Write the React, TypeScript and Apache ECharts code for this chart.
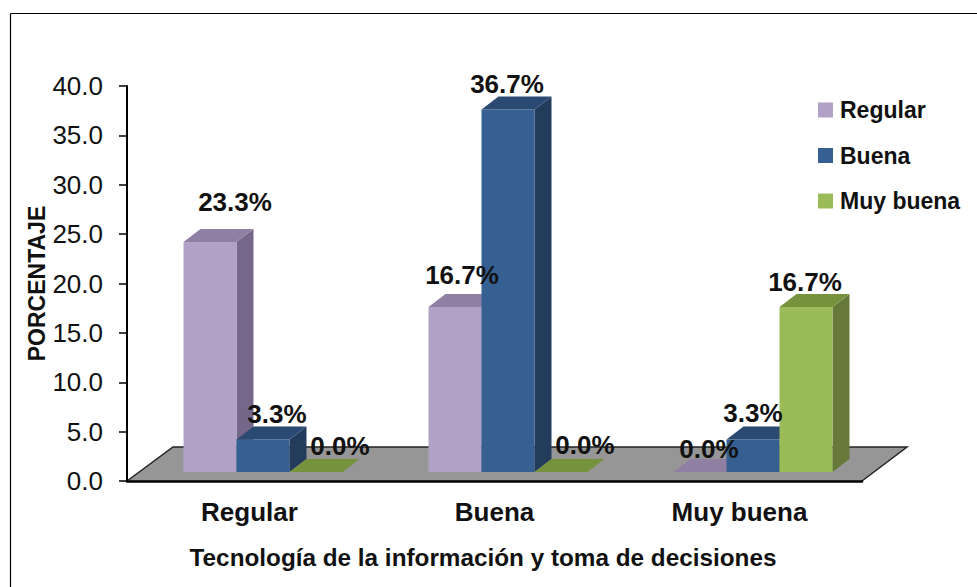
import React, { useEffect, useRef } from "react";
import * as echarts from "echarts";

const categories = ["Regular", "Buena", "Muy buena"];
const seriesNames = ["Regular", "Buena", "Muy buena"];
const regularValues = [23.3, 16.7, 0.0];
const buenaValues = [3.3, 36.7, 3.3];
const muyBuenaValues = [0.0, 0.0, 16.7];
const yTicks = { min: 0, max: 40, step: 5 };

const allValues = [regularValues, buenaValues, muyBuenaValues];
const faces = [
  { front: "#B2A1C7", side: "#75678A", top: "#8F7FA3" },
  { front: "#366092", side: "#233C5C", top: "#2A4A73" },
  { front: "#9BBB59", side: "#66793A", top: "#76923C" },
];
// Offsets of each value label from the centre of its bar's top front edge.
const labelShift = [
  [[25, -40], [7, -32], [9, -23]],
  [[14, -25], [-1, -26], [0, -26]],
  [[24, -26], [24, -27], [-1, -25]],
];
const DX = 17;
const DY = 13;
const BASE_X = 13.5;
const BASE_Y = 9;
const BAR_SHARE = 53 / 245;
const FONT = "'Liberation Sans', Arial, sans-serif";

function barRenderer(seriesIndex: number) {
  return (_params: any, api: any) => {
    const cat = api.value(0);
    const val = api.value(1);
    const [cx, vy] = api.coord([cat, val]);
    const [, by] = api.coord([cat, 0]);
    const w = api.size([1, 0])[0] * BAR_SHARE;
    const mid = cx + BASE_X + (seriesIndex - 1) * w;
    const l = mid - w / 2;
    const r = mid + w / 2;
    const t = vy - BASE_Y;
    const b = by - BASE_Y;
    const f = faces[seriesIndex];
    const children: any[] = [];
    if (val > 0) {
      children.push({
        type: "polygon",
        shape: { points: [[r, t], [r + DX, t - DY], [r + DX, b - DY], [r, b]] },
        style: { fill: f.side },
      });
      children.push({ type: "rect", shape: { x: l, y: t, width: w, height: b - t }, style: { fill: f.front } });
    }
    children.push({
      type: "polygon",
      shape: { points: [[l, t], [r, t], [r + DX, t - DY], [l + DX, t - DY]] },
      style: { fill: f.top },
    });
    const [sx, sy] = labelShift[seriesIndex][cat];
    children.push({
      type: "text",
      z2: 100,
      style: {
        x: mid + sx,
        y: t + sy,
        text: val.toFixed(1) + "%",
        fill: "#111",
        fontFamily: FONT,
        fontWeight: "bold",
        fontSize: 26,
        textAlign: "center",
        textVerticalAlign: "middle",
      },
    });
    return { type: "group", children };
  };
}

function floorRenderer(params: any) {
  const { x, y, width, height } = params.coordSys;
  const fy = y + height;
  const bl = [x + 46, fy - 34];
  const br = [x + width + 45, fy - 34];
  const fl = [x, fy];
  const fr = [x + width, fy];
  return {
    type: "group",
    children: [
      { type: "polygon", shape: { points: [fl, fr, br, bl] }, style: { fill: "#969696" } },
      {
        type: "polyline",
        shape: { points: [fl, bl, br, fr] },
        style: { fill: "none", stroke: "#222", lineWidth: 1.5 },
      },
    ],
  };
}

export default function App() {
  const ref = useRef<HTMLDivElement>(null);
  useEffect(() => {
    document.body.style.margin = "0";
    const chart = echarts.init(ref.current!, undefined, { renderer: "svg" });
    chart.setOption({
      animation: false,
      backgroundColor: "#fff",
      grid: { left: 127, right: 115, top: 86, bottom: 106 },
      legend: {
        left: 813,
        top: 90,
        orient: "vertical",
        data: seriesNames,
        icon: "rect",
        itemWidth: 15,
        itemHeight: 15,
        itemGap: 15.5,
        textStyle: {
          fontFamily: FONT,
          fontWeight: "bold",
          fontSize: 23,
          color: "#111",
          padding: [0, 0, 0, 2],
          lineHeight: 30,
        },
      },
      xAxis: {
        type: "category",
        data: categories,
        z: 3,
        axisTick: { show: false },
        axisLine: { lineStyle: { color: "#000", width: 2.5 } },
        axisLabel: { margin: 18, color: "#111", fontFamily: FONT, fontWeight: "bold", fontSize: 26 },
        name: "Tecnología de la información y toma de decisiones",
        nameLocation: "middle",
        nameGap: 64,
        nameMoveOverlap: false,
        nameTextStyle: { color: "#111", fontFamily: FONT, fontWeight: "bold", fontSize: 24.3, padding: [0, 23, 0, 0] },
      },
      yAxis: {
        type: "value",
        min: yTicks.min,
        max: yTicks.max,
        interval: yTicks.step,
        z: 3,
        splitLine: { show: false },
        axisLine: { show: true, lineStyle: { color: "#000", width: 2 } },
        axisTick: { show: true, length: 8, lineStyle: { color: "#000", width: 1.5 } },
        axisLabel: {
          margin: 24,
          color: "#111",
          fontFamily: FONT,
          fontSize: 26,
          formatter: (v: number) => v.toFixed(1),
        },
        name: "PORCENTAJE",
        nameLocation: "middle",
        nameGap: 79,
        nameMoveOverlap: false,
        nameTextStyle: { color: "#111", fontFamily: FONT, fontWeight: "bold", fontSize: 23 },
      },
      graphic: [
        { type: "line", shape: { x1: 10.5, y1: 13.5, x2: 10.5, y2: 587 }, style: { stroke: "#000", lineWidth: 1.2 } },
        { type: "line", shape: { x1: 10.5, y1: 13.5, x2: 977, y2: 13.5 }, style: { stroke: "#000", lineWidth: 1.2 } },
      ],
      series: [
        { type: "custom", name: "__floor", z: 1, silent: true, clip: false, data: [[0, 0]], encode: { x: 0, y: 1 }, renderItem: floorRenderer },
        ...seriesNames.map((name, i) => ({
          type: "custom",
          name,
          z: 4,
          clip: false,
          itemStyle: { color: faces[i].front },
          encode: { x: 0, y: 1 },
          data: allValues[i].map((v, c) => [c, v]),
          renderItem: barRenderer(i),
        })),
      ],
    });
    return () => chart.dispose();
  }, []);
  return <div ref={ref} style={{ position: "fixed", left: 0, top: 0, width: 977, height: 587 }} />;
}
